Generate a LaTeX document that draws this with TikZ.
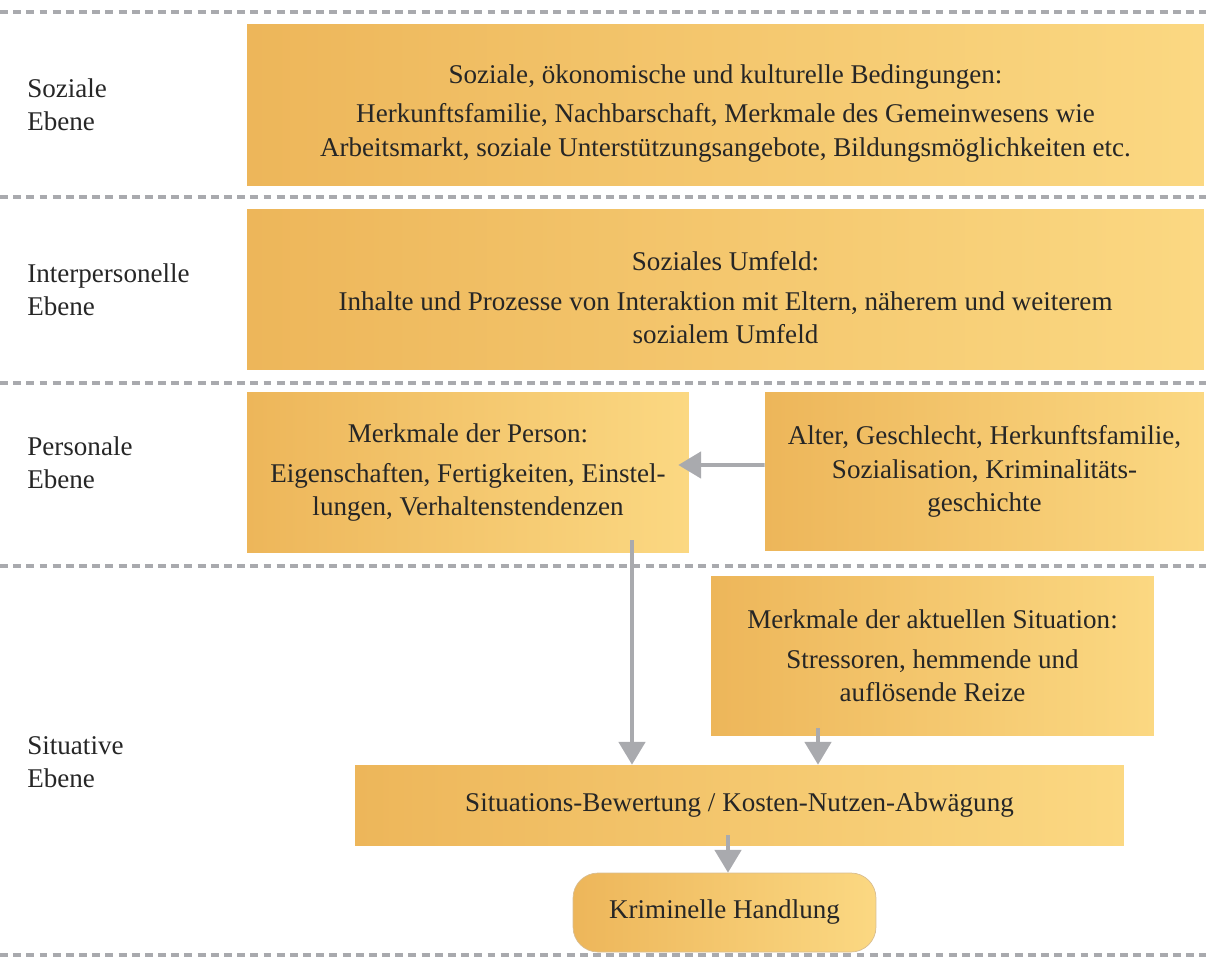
\documentclass[tikz,border=0pt]{standalone}
\usepackage{fontspec}
\setmainfont{Liberation Serif}
\usetikzlibrary{arrows.meta}
\definecolor{boxdark}{HTML}{EDB65A}
\definecolor{boxlight}{HTML}{FBD882}
\definecolor{arrgray}{HTML}{A9AAAE}
\newcommand{\lowstart}{\rule{0pt}{20pt}}
\tikzset{
  box/.style={left color=boxdark, right color=boxlight, draw=none, align=center,
    inner sep=0pt, text=black!85, font=\fontsize{15.4pt}{19pt}\selectfont},
  lvl/.style={anchor=west, align=left, inner sep=0pt, text=black!85,
    font=\fontsize{15.4pt}{19pt}\selectfont},
  sep/.style={arrgray, line width=2pt, dash pattern=on 4.5pt off 3pt},
  arr/.style={arrgray, line width=2.2pt, -{Triangle[length=13pt,width=15pt]}}
}
\begin{document}
\begin{tikzpicture}[x=0.02cm,y=-0.02cm]
      \useasboundingbox (0,0) rectangle (1206,960);
      % Separators
      \foreach \yy in {12,197,383,566,955}
        \draw[sep] (0,\yy) -- (1206,\yy);
      % Levels
      \node[lvl] (lsoz) at (27,105) {Soziale\\Ebene};
      \node[lvl] (linter) at (27,290) {Interpersonelle\\Ebene};
      \node[lvl] (lpers) at (27,463) {Personale\\Ebene};
      \node[lvl] (lsit) at (27,762) {Situative\\Ebene};
      % Soziale Ebene
      \node[box, minimum width=19.14cm, minimum height=3.24cm] (soz) at (725.5,105)
        {\lowstart Soziale, ökonomische und kulturelle Bedingungen:\\[0.13cm]
         Herkunftsfamilie, Nachbarschaft, Merkmale des Gemeinwesens wie\\
         Arbeitsmarkt, soziale Unterstützungsangebote, Bildungsmöglichkeiten etc.};
      % Interpersonelle Ebene
      \node[box, minimum width=19.14cm, minimum height=3.22cm] (inter) at (725.5,289.5)
        {\lowstart Soziales Umfeld:\\[0.13cm]
         Inhalte und Prozesse von Interaktion mit Eltern, näherem und weiterem\\
         sozialem Umfeld};
      % Personale Ebene
      \node[box, minimum width=8.84cm, minimum height=3.22cm] (person) at (468,472.5)
        {Merkmale der Person:\\[0.13cm]
         Eigenschaften, Fertigkeiten, Einstel-\\
         lungen, Verhaltenstendenzen};
      \node[box, minimum width=8.78cm, minimum height=3.18cm] (hist) at (984.5,471.5)
        {Alter, Geschlecht, Herkunftsfamilie,\\
         Sozialisation, Kriminalitäts-\\
         geschichte};
      % Situative Ebene
      \node[box, minimum width=8.86cm, minimum height=3.2cm] (situ) at (932.5,656)
        {Merkmale der aktuellen Situation:\\[0.13cm]
         Stressoren, hemmende und\\
         auflösende Reize};
      \node[box, minimum width=15.38cm, minimum height=1.6cm] (bewert) at (739.5,805)
        {Situations-Bewertung / Kosten-Nutzen-Abwägung};
      \node[box, rounded corners=0.5cm, draw=boxdark!80!black!60, line width=0.4pt,
        minimum width=6.06cm, minimum height=1.58cm] (tat) at (724.5,912.5)
        {Kriminelle Handlung};
      % Arrows
      \draw[arr] ([yshift=0.13cm]hist.west) -- ([xshift=-0.22cm,yshift=0.15cm]person.east);
      \draw[arr] (632,540) -- (bewert.north -| 632,0);
      \draw[arr] (818,728) -- (bewert.north -| 818,0);
      \draw[arr] (728,835) -- (tat.north -| 728,0);
\end{tikzpicture}
\end{document}
